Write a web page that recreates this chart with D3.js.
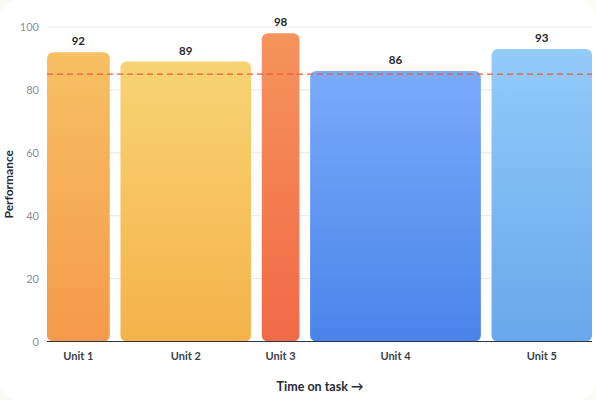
<!DOCTYPE html>
<html>
<head>
<meta charset="utf-8">
<script src="https://cdn.jsdelivr.net/npm/d3@7"></script>
<style>
    html, body { margin: 0; padding: 0; background: #fafaf5; }
    #card { width: 596px; height: 400px; background: #fff; border-radius: 18px; overflow: hidden; }
    svg { display: block; font-family: Lato, "Open Sans", sans-serif; }
</style>
</head>
<body>
<div id="card"></div>
<script>
// data
var units = ["Unit 1", "Unit 2", "Unit 3", "Unit 4", "Unit 5"];
var performance = [92, 89, 98, 86, 93];
var timeOnTask = [25, 52, 15, 68, 40];
var yTicks = [0, 20, 40, 60, 80, 100];
var target = 85;
var topColors = ["#f7c063", "#f8d373", "#f5945c", "#7aabfa", "#93cbfa"];
var bottomColors = ["#f59a4b", "#f5b24b", "#f26947", "#4b83eb", "#68a7ec"];

(function () {
    var width = 596, height = 400;
    var left = 47, right = 592, top = 27, bottom = 341.5;
    var gap = 10.7;

    var svg = d3.select("#card").append("svg")
        .attr("width", width)
        .attr("height", height);

    var defs = svg.append("defs");
    units.forEach(function (u, i) {
        var g = defs.append("linearGradient")
            .attr("id", "grad" + i)
            .attr("x1", 0).attr("y1", 0).attr("x2", 0).attr("y2", 1);
        g.append("stop").attr("offset", "0%").attr("stop-color", topColors[i]);
        g.append("stop").attr("offset", "100%").attr("stop-color", bottomColors[i]);
    });

    var y = d3.scaleLinear().domain([0, 100]).range([bottom, top]);

    //--variable width bars: widths proportional to time, fixed gap between them
    var total = d3.sum(timeOnTask);
    var w = d3.scaleLinear().domain([0, total])
        .range([0, (right - left) - gap * (units.length - 1)]);
    var cum = d3.cumsum(timeOnTask);
    var bars = units.map(function (u, i) {
        var start = cum[i] - timeOnTask[i];
        return {
            name: u,
            value: performance[i],
            x0: left + w(start) + i * gap,
            x1: left + w(cum[i]) + i * gap,
            i: i
        };
    });

    // grid
    svg.append("g").selectAll("line")
        .data(yTicks.filter(function (t) { return t > 0; }))
        .join("line")
        .attr("x1", left).attr("x2", right)
        .attr("y1", function (d) { return y(d); })
        .attr("y2", function (d) { return y(d); })
        .attr("stroke", "#e9e7e1")
        .attr("stroke-width", 1);

    // y axis labels
    var yAxis = svg.append("g")
        .attr("transform", "translate(" + (left - 8) + ",0)")
        .call(d3.axisLeft(y).tickValues(yTicks).tickSize(0).tickPadding(0));
    yAxis.select(".domain").remove();
    yAxis.selectAll("text")
        .attr("fill", "#8b8f9b")
        .attr("font-size", 11)
        .attr("font-family", "Lato, sans-serif");

    // bars
    svg.append("g").selectAll("rect")
        .data(bars)
        .join("rect")
        .attr("x", function (d) { return d.x0; })
        .attr("y", function (d) { return y(d.value); })
        .attr("width", function (d) { return d.x1 - d.x0; })
        .attr("height", function (d) { return y(0) - y(d.value); })
        .attr("rx", 6)
        .attr("fill", function (d) { return "url(#grad" + d.i + ")"; });

    // value labels
    svg.append("g").selectAll("text")
        .data(bars)
        .join("text")
        .attr("x", function (d) { return (d.x0 + d.x1) / 2; })
        .attr("y", function (d) { return y(d.value) - 7; })
        .attr("text-anchor", "middle")
        .attr("font-size", 11.5)
        .attr("font-weight", 700)
        .attr("fill", "#23262e")
        .text(function (d) { return d.value; });

    // baseline
    svg.append("line")
        .attr("x1", left).attr("x2", right)
        .attr("y1", y(0)).attr("y2", y(0))
        .attr("stroke", "#2f3440")
        .attr("stroke-width", 1.2);

    // target line
    svg.append("line")
        .attr("x1", left).attr("x2", right)
        .attr("y1", y(target)).attr("y2", y(target))
        .attr("stroke", "#ea5a3c")
        .attr("stroke-width", 1.2)
        .attr("stroke-dasharray", "6,4");

    // unit labels
    svg.append("g").selectAll("text")
        .data(bars)
        .join("text")
        .attr("x", function (d) { return (d.x0 + d.x1) / 2; })
        .attr("y", 360)
        .attr("text-anchor", "middle")
        .attr("font-size", 11)
        .attr("font-weight", 700)
        .attr("fill", "#3a3e48")
        .text(function (d) { return d.name; });

    // axis titles
    svg.append("text")
        .attr("x", 320).attr("y", 391)
        .attr("text-anchor", "middle")
        .attr("font-size", 12.5)
        .attr("font-weight", 700)
        .attr("fill", "#262a35")
        .text("Time on task \u2192");

    svg.append("text")
        .attr("transform", "translate(13," + ((top + bottom) / 2) + ") rotate(-90)")
        .attr("text-anchor", "middle")
        .attr("font-size", 12)
        .attr("font-weight", 700)
        .attr("fill", "#262a35")
        .text("Performance");
})();
</script>
</body>
</html>
